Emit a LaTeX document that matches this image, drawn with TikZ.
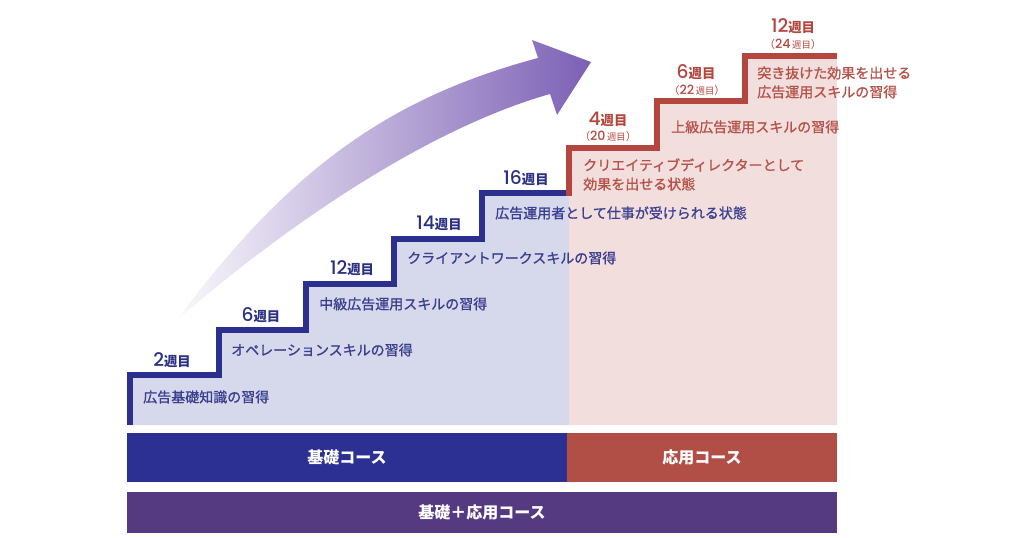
\documentclass[tikz,border=0pt]{standalone}
\usepackage{fontspec}
\setmainfont{Noto Sans CJK JP}
\newfontfamily\jp{Noto Sans CJK JP}
\newfontfamily\jpm{Noto Sans CJK JP}[FakeBold=1]
\newfontfamily\numf{Poppins}[UprightFont={* Medium}]
\definecolor{sblue}{HTML}{2B2F8E}
\definecolor{tblue}{HTML}{2C3084}
\definecolor{dblue}{HTML}{3A3F90}
\definecolor{lblue}{HTML}{D6D8EB}
\definecolor{sred}{HTML}{B3463E}
\definecolor{tred}{HTML}{B3463E}
\definecolor{dred}{HTML}{B5524A}
\definecolor{lred}{HTML}{F2DEDC}
\definecolor{barblue}{HTML}{2B3092}
\definecolor{barred}{HTML}{B14F47}
\definecolor{barpurple}{HTML}{563A81}
\definecolor{apurple}{HTML}{7C60B5}
\newcommand\wknum[1]{{\numf\fontsize{14}{14}\selectfont #1}{\jp\bfseries\fontsize{10}{10}\selectfont 週目}}
\newcommand\wksub[1]{{\jp\fontsize{8}{8}\selectfont （}{\numf\fontsize{9.5}{9.5}\selectfont #1}{\jp\fontsize{7}{8}\selectfont\,週目}{\jp\fontsize{8}{8}\selectfont ）}}
\tikzset{
  wk/.style={inner sep=0pt, anchor=center},
  desc/.style={inner sep=0pt, anchor=west, align=left, font=\jpm\fontsize{10.5}{14.25}\selectfont},
  stairline/.style={line width=4.5pt, line join=miter},
  bar/.style={inner sep=0pt, text=white, font=\jp\bfseries\fontsize{12}{12}\selectfont}
}
\begin{document}
\begin{tikzpicture}[x=0.75pt, y=-0.75pt]
\useasboundingbox (0,0) rectangle (1024,538);
% arrow
\shade[left color=apurple!4, middle color=apurple!68, right color=apurple]
  (177,320) .. controls (295,160) and (400,95) .. (538,58) -- (532,40) -- (591,62)
  -- (557,115) -- (550,94) .. controls (430,128) and (290,222) .. (177,320) -- cycle;
% fills
\fill[lblue] (130,425) -- (130,375) -- (219,375) -- (219,330) -- (306,330) -- (306,284)
  -- (394,284) -- (394,239) -- (482,239) -- (482,193) -- (569,193) -- (569,425) -- cycle;
\fill[lred] (569,425) -- (569,148) -- (657,148) -- (657,101) -- (745,101) -- (745,56)
  -- (837,56) -- (837,425) -- cycle;
% stairs
\draw[stairline, sblue] (130,425) -- (130,375) -- (219,375) -- (219,330) -- (306,330)
  -- (306,284) -- (394,284) -- (394,239) -- (482,239) -- (482,193) -- (566,193);
\draw[stairline, sred] (569,196) -- (569,148) -- (657,148) -- (657,101) -- (745,101)
  -- (745,56) -- (837,56);
% week labels
\node[wk, text=tblue] (w2) at (172,360) {\wknum{2}};
\node[wk, text=tblue] (w6) at (261,315) {\wknum{6}};
\node[wk, text=tblue] (w12) at (352,268) {\wknum{12}};
\node[wk, text=tblue] (w14) at (439,223) {\wknum{14}};
\node[wk, text=tblue] (w16) at (526,178) {\wknum{16}};
\node[wk, text=tred] (r4) at (608,119) {\wknum{4}};
\node[wk, text=tred] (r4s) at (608,136) {\wksub{20}};
\node[wk, text=tred] (r6) at (696,72) {\wknum{6}};
\node[wk, text=tred] (r6s) at (697,90) {\wksub{22}};
\node[wk, text=tred] (r12) at (793,26) {\wknum{12}};
\node[wk, text=tred] (r12s) at (793,44) {\wksub{24}};
% descriptions
\node[desc, text=dblue] (d1) at (143,397) {広告基礎知識の習得};
\node[desc, text=dblue] (d2) at (231,350) {オペレーションスキルの習得};
\node[desc, text=dblue] (d3) at (319,304) {中級広告運用スキルの習得};
\node[desc, text=dblue] (d4) at (407,258) {クライアントワークスキルの習得};
\node[desc, text=dblue] (d5) at (495,213) {広告運用者として仕事が受けられる状態};
\node[desc, text=dred] (d6) at (583,174.5) {クリエイティブディレクターとして\\効果を出せる状態};
\node[desc, text=dred] (d7) at (671,127) {上級広告運用スキルの習得};
\node[desc, text=dred] (d8) at (757,82.5) {突き抜けた効果を出せる\\広告運用スキルの習得};
% bars
\node[bar, fill=barblue, minimum width=330pt, minimum height=36.75pt] (b1) at (347,457.5) {基礎コース};
\node[bar, fill=barred, minimum width=202.5pt, minimum height=36.75pt] (b2) at (702,457.5) {応用コース};
\node[bar, fill=barpurple, minimum width=532.5pt, minimum height=30.75pt] (b3) at (482,512.5) {基礎＋応用コース};
\end{tikzpicture}
\end{document}
